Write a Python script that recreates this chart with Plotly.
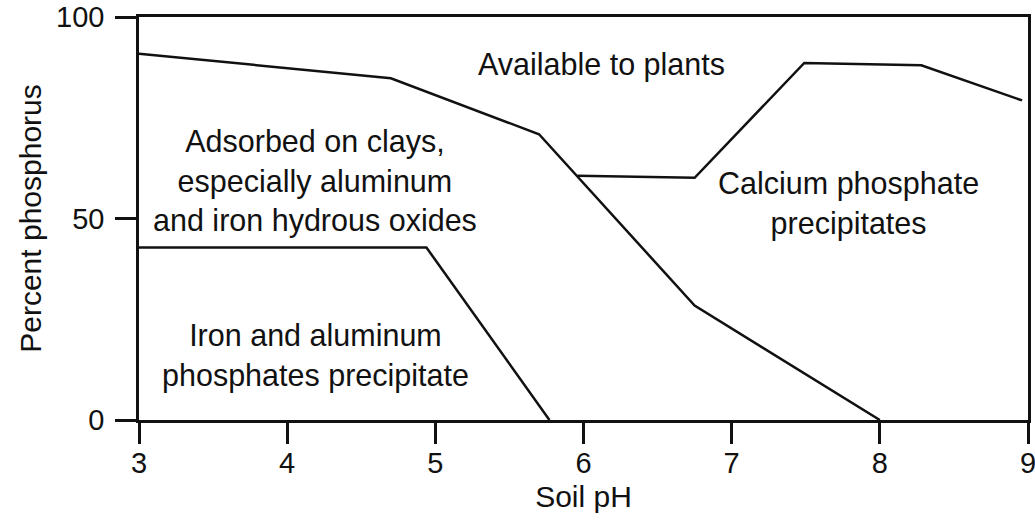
import plotly.graph_objects as go

# Boundary between adsorbed P and P available to plants
upper_ph = [3.0, 4.7, 5.7, 6.75, 8.0]
upper_pct = [90.9, 84.8, 70.9, 28.4, 0.0]

# Boundary of iron and aluminum phosphate precipitates
lower_ph = [3.0, 4.94, 5.77]
lower_pct = [42.8, 42.8, 0.0]

# Boundary of calcium phosphate precipitates
calcium_ph = [5.96, 6.75, 7.49, 8.28, 8.96]
calcium_pct = [60.6, 60.1, 88.6, 88.0, 79.3]

x_ticks = [3, 4, 5, 6, 7, 8, 9]
y_ticks = [0, 50, 100]

region_labels = [
    ("Available to plants", 6.12, 88.3),
    ("Adsorbed on clays,<br>especially aluminum<br>and iron hydrous oxides", 4.19, 59.3),
    ("Iron and aluminum<br>phosphates precipitate", 4.19, 16.0),
    ("Calcium phosphate<br>precipitates", 7.79, 53.6),
]

FONT = "Liberation Sans, Arial, Helvetica, sans-serif"
INK = "#111111"

fig = go.Figure()
for xs, ys in [(upper_ph, upper_pct), (lower_ph, lower_pct), (calcium_ph, calcium_pct)]:
    fig.add_trace(go.Scatter(x=xs, y=ys, mode="lines",
                             line=dict(color=INK, width=2.5),
                             showlegend=False, hoverinfo="skip", cliponaxis=False))

for text, x, y in region_labels:
    fig.add_annotation(x=x, y=y, text=text, showarrow=False,
                       font=dict(family=FONT, size=30.5, color=INK),
                       align="center", xanchor="center", yanchor="middle")

axis_common = dict(showgrid=False, zeroline=False, showline=True, mirror=True,
                   linecolor=INK, linewidth=2.5, ticks="outside", ticklen=21,
                   tickwidth=2.5, tickcolor=INK, automargin=False,
                   ticklabeloverflow="allow",
                   tickfont=dict(family=FONT, size=29, color=INK))

fig.update_xaxes(range=[3, 9], tickvals=x_ticks, ticktext=[str(v) for v in x_ticks],
                 title=dict(text="Soil pH", font=dict(family=FONT, size=30, color=INK),
                            standoff=9),
                 ticklabelstandoff=-6, **axis_common)
fig.update_yaxes(range=[0, 100], tickvals=y_ticks, ticktext=[str(v) for v in y_ticks],
                 title=dict(text="Percent phosphorus",
                            font=dict(family=FONT, size=30, color=INK), standoff=6),
                 ticklabelstandoff=5, **axis_common)

fig.update_layout(width=1035, height=522,
                  margin=dict(l=139, r=7, t=17, b=102),
                  paper_bgcolor="white", plot_bgcolor="white")

fig.write_html("out.html")
